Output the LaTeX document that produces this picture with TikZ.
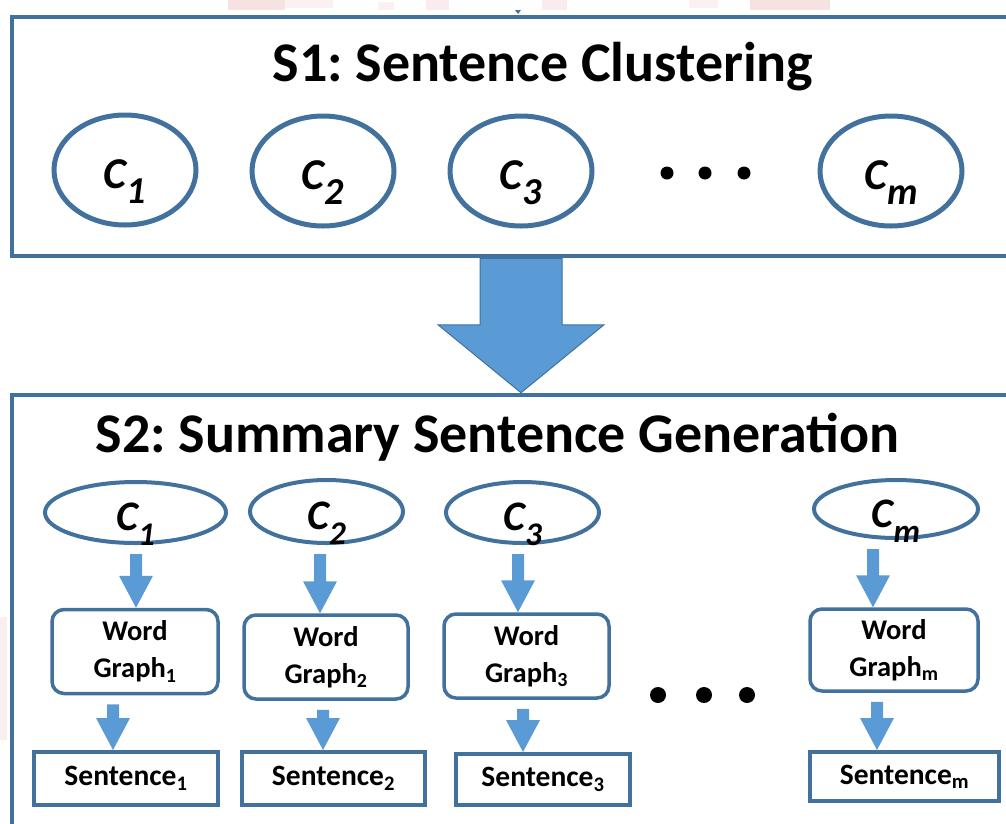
\documentclass[tikz,border=0pt]{standalone}
\usepackage{fontspec}
\setmainfont{Carlito}
\frenchspacing
\usetikzlibrary{shapes.geometric,calc}
\definecolor{bordblue}{HTML}{41719C}
\definecolor{fillblue}{HTML}{5B9BD5}
\definecolor{pinkish}{HTML}{F2CFCF}
\newcommand\clab[3]{{\fontsize{#1}{#1}\selectfont\bfseries\itshape C}\raisebox{-15pt}{\fontsize{#2}{#2}\selectfont\bfseries\itshape #3}}
\newcommand\blockarr[3]{%
  \fill[fillblue] let \p1=(#2.south), \p2=(#3.north) in
  ({#1pt-6pt},{\y1-9pt}) -- ({#1pt+6pt},{\y1-9pt}) -- ({#1pt+6pt},{\y2+32pt})
  -- ({#1pt+17pt},{\y2+32pt}) -- ({#1pt},{\y2}) -- ({#1pt-17pt},{\y2+32pt})
  -- ({#1pt-6pt},{\y2+32pt}) -- cycle;}
\tikzset{
  panel/.style={draw=bordblue, line width=4.5pt, inner sep=0pt},
  topell/.style={ellipse, draw=bordblue, line width=5pt, minimum width=142pt, minimum height=110pt, inner sep=0pt},
  botell/.style={ellipse, draw=bordblue, line width=4pt, inner sep=0pt},
  wgbox/.style={draw=bordblue, line width=3.5pt, rounded corners=12pt, align=center, inner sep=0pt,
    font=\fontsize{28.5}{37}\selectfont\bfseries},
  sentbox/.style={draw=bordblue, line width=4pt, inner sep=0pt, font=\fontsize{29.5}{34}\selectfont\bfseries},
  clabel/.style={anchor=base, inner sep=0pt},
  dotmark/.style={fill=black},
}
\begin{document}
\begin{tikzpicture}[x=1pt,y=-1pt]
\useasboundingbox (0,0) rectangle (1006,823);
\clip (0,0) rectangle (1006,823);
% faint artefacts
\fill[pinkish,opacity=0.6] (228,0) rectangle (285,10);
\fill[pinkish,opacity=0.3] (285,0) rectangle (333,8);
\fill[pinkish,opacity=0.3] (378,2) rectangle (394,10);
\fill[pinkish,opacity=0.4] (426,0) rectangle (449,10);
\fill[pinkish,opacity=0.4] (542,0) rectangle (567,10);
\fill[pinkish,opacity=0.3] (689,0) rectangle (718,8);
\fill[pinkish,opacity=0.6] (750,0) rectangle (830,10);
\fill[pinkish,opacity=0.35] (0,617) rectangle (7,740);
\fill[bordblue] (515,10) -- (521,10) -- (518,14) -- cycle;
% panels
\node[panel, minimum width=1010pt, minimum height=239pt] (s1box) at (517,136.5) {};
\node[panel, minimum width=1010pt, minimum height=460pt] (s2box) at (517,625) {};
\node[anchor=base, font=\fontsize{56}{56}\selectfont\bfseries] (t1) at (543,81) {S1: Sentence Clustering};
\node[anchor=base, font=\fontsize{56}{56}\selectfont\bfseries] (t2) at (497.5,452) {S2: Summary Sentence Generation};
% S1 ellipses
\node[topell] (a1) at (125,170) {};
\node[topell] (a2) at (323,171) {};
\node[topell] (a3) at (521,171) {};
\node[topell] (am) at (891,171) {};
\node[clabel] (la1) at ($(a1)+(0,18)$) {\clab{44}{38}{1}};
\node[clabel] (la2) at ($(a2)+(0,18)$) {\clab{44}{38}{2}};
\node[clabel] (la3) at ($(a3)+(0,18)$) {\clab{44}{38}{3}};
\node[clabel] (lam) at ($(am)+(0,18)$) {\clab{44}{38}{m}};
\fill[dotmark] (667,173) circle (6.5) (705,173) circle (6.5) (744,173) circle (6.5);
% big arrow
\draw[bordblue, line width=1pt, fill=fillblue] let \p1=(s1box.south), \p2=(s2box.north) in
  (480,\y1) -- (562,\y1) -- (562,{\y2+68pt}) -- (604,{\y2+68pt}) -- (521,\y2)
  -- (438,{\y2+68pt}) -- (480,{\y2+68pt}) -- cycle;
% S2 ellipses
\node[botell, minimum width=181pt, minimum height=61pt] (b1) at (135.5,512.5) {};
\node[botell, minimum width=153pt, minimum height=63pt] (b2) at (326.5,511.5) {};
\node[botell, minimum width=153pt, minimum height=61pt] (b3) at (522.5,512.5) {};
\node[botell, minimum width=164pt, minimum height=58pt] (bm) at (896,509) {};
\node[clabel] (lb1) at ($(b1)+(0,18)$) {\clab{42}{33}{1}};
\node[clabel] (lb2) at ($(b2)+(0,18)$) {\clab{42}{33}{2}};
\node[clabel] (lb3) at ($(b3)+(0,18)$) {\clab{42}{33}{3}};
\node[clabel] (lbm) at ($(bm)+(0,18)$) {\clab{42}{33}{m}};
% word graphs
\node[wgbox, minimum width=166pt, minimum height=84pt] (w1) at (135,651.5) {Word\\Graph\textsubscript{1}};
\node[wgbox, minimum width=164pt, minimum height=84pt] (w2) at (326,657) {Word\\Graph\textsubscript{2}};
\node[wgbox, minimum width=165pt, minimum height=84pt] (w3) at (526.5,656) {Word\\Graph\textsubscript{3}};
\node[wgbox, minimum width=168pt, minimum height=82pt] (wm) at (894,650) {Word\\Graph\textsubscript{m}};
% sentences
\node[sentbox, minimum width=184pt, minimum height=53pt] (n1) at (126,778.5) {Sentence\textsubscript{1}};
\node[sentbox, minimum width=183pt, minimum height=53pt] (n2) at (333.5,778.5) {Sentence\textsubscript{2}};
\node[sentbox, minimum width=174pt, minimum height=51pt] (n3) at (543,779.5) {Sentence\textsubscript{3}};
\node[sentbox, minimum width=189pt, minimum height=49pt] (nm) at (904.5,776.5) {Sentence\textsubscript{m}};
\fill[dotmark] (658,695) circle (8) (704,695) circle (8) (747,695) circle (8);
% arrows
\blockarr{136}{b1}{w1}
\blockarr{320}{b2}{w2}
\blockarr{518}{b3}{w3}
\blockarr{873}{bm}{wm}
\blockarr{113}{w1}{n1}
\blockarr{323}{w2}{n2}
\blockarr{523}{w3}{n3}
\blockarr{877}{wm}{nm}
\end{tikzpicture}
\end{document}
